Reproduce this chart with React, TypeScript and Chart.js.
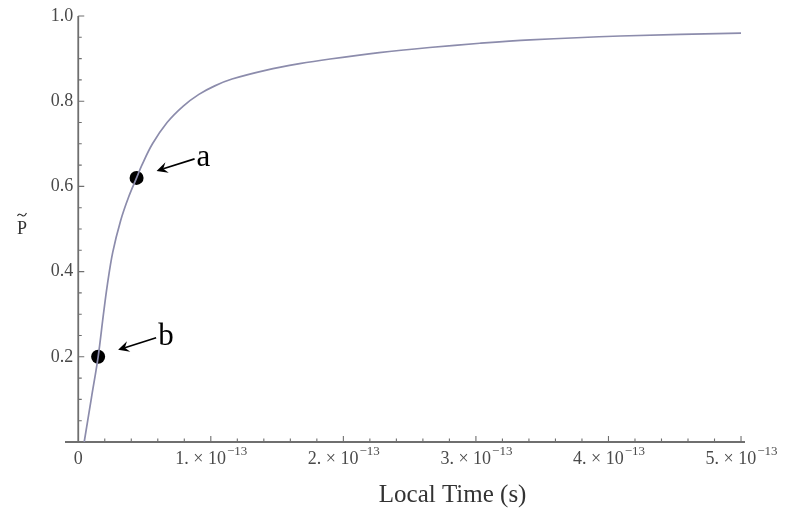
import { useEffect, useRef } from "react";
import { Chart, registerables } from "chart.js";

Chart.register(...registerables);

// Local time, in units of 1e-13 s
const localTime = [
  0.045, 0.1, 0.15, 0.19, 0.22, 0.26, 0.32, 0.38, 0.44, 0.48, 0.56, 0.67, 0.79,
  0.91, 1.03, 1.16, 1.42, 1.67, 1.9, 2.27, 2.65, 3.03, 3.41, 4.09, 5.0,
];
// Probability P~ at each time
const probability = [
  0, 0.105, 0.2, 0.3, 0.37, 0.445, 0.52, 0.575, 0.62, 0.65, 0.7, 0.75, 0.788,
  0.816, 0.836, 0.852, 0.873, 0.888, 0.899, 0.914, 0.926, 0.936, 0.944, 0.953,
  0.96,
];

// Marked states
const markLabels = ["a", "b"];
const markTime = [0.44, 0.15];
const markProbability = [0.62, 0.2];

// Axis ticks
const xMajorTicks = [0, 1, 2, 3, 4, 5];
const xMinorStep = 0.2;
const yMajorTicks = [0.2, 0.4, 0.6, 0.8, 1.0];
const yMinorStep = 0.05;
const xExponent = "\u221213";

const SERIF = '"Liberation Serif", "DejaVu Serif", serif';
const AXIS_COLOR = "#6f6f6f";
const LABEL_COLOR = "#4a4a4a";

const axesPlugin = {
  id: "crossedAxes",
  beforeDatasetsDraw(chart: any) {
    const { ctx, chartArea } = chart;
    const xs = chart.scales.x;
    const ys = chart.scales.y;
    const x0 = xs.getPixelForValue(0);
    const y0 = ys.getPixelForValue(0);
    const yTop = ys.getPixelForValue(1);
    const xEnd = xMajorTicks[xMajorTicks.length - 1];
    const yEnd = yMajorTicks[yMajorTicks.length - 1];

    ctx.save();
    ctx.strokeStyle = AXIS_COLOR;
    ctx.lineWidth = 1.8;
    ctx.beginPath();
    ctx.moveTo(chartArea.left, y0);
    ctx.lineTo(chartArea.right, y0);
    ctx.moveTo(x0, y0);
    ctx.lineTo(x0, yTop);
    ctx.stroke();

    // tick marks pointing into the plot
    ctx.lineWidth = 1.1;
    ctx.beginPath();
    for (let v = xMinorStep; v <= xEnd + 1e-9; v += xMinorStep) {
      const isMajor = Math.abs(v - Math.round(v)) < 1e-6;
      const px = xs.getPixelForValue(v);
      ctx.moveTo(px, y0);
      ctx.lineTo(px, y0 - (isMajor ? 6 : 3.5));
    }
    for (let v = yMinorStep; v <= yEnd + 1e-9; v += yMinorStep) {
      const isMajor = yMajorTicks.some((t) => Math.abs(t - v) < 1e-6);
      const py = ys.getPixelForValue(v);
      ctx.moveTo(x0, py);
      ctx.lineTo(x0 + (isMajor ? 6 : 3.5), py);
    }
    ctx.stroke();

    // y tick labels
    ctx.fillStyle = LABEL_COLOR;
    ctx.font = `18px ${SERIF}`;
    ctx.textAlign = "right";
    ctx.textBaseline = "middle";
    yMajorTicks.forEach((t) => {
      ctx.fillText(t.toFixed(1), x0 - 5, ys.getPixelForValue(t));
    });

    // x tick labels with exponent
    ctx.textBaseline = "alphabetic";
    ctx.textAlign = "left";
    xMajorTicks.forEach((t) => {
      const px = xs.getPixelForValue(t);
      if (t === 0) {
        ctx.font = `18px ${SERIF}`;
        const w = ctx.measureText("0").width;
        ctx.fillText("0", px - w / 2, y0 + 22);
        return;
      }
      const base = `${t}. \u00d7 10`;
      ctx.font = `18px ${SERIF}`;
      const wb = ctx.measureText(base).width;
      ctx.font = `13px ${SERIF}`;
      const ws = ctx.measureText(xExponent).width;
      const start = px - (wb + ws) / 2;
      ctx.font = `18px ${SERIF}`;
      ctx.fillText(base, start, y0 + 22);
      ctx.font = `13px ${SERIF}`;
      ctx.fillText(xExponent, start + wb + 1, y0 + 13);
    });

    // axis titles
    ctx.fillStyle = "#333";
    ctx.font = `25px ${SERIF}`;
    ctx.textAlign = "center";
    ctx.fillText("Local Time (s)", chartArea.left + chartArea.width * 0.57, y0 + 60);

    const ty = (y0 + yTop) / 2;
    ctx.font = `18px ${SERIF}`;
    ctx.textBaseline = "middle";
    ctx.fillText("P", 22, ty);
    ctx.strokeStyle = "#333";
    ctx.lineWidth = 1.2;
    ctx.beginPath();
    ctx.moveTo(17.5, ty - 13);
    ctx.bezierCurveTo(19.5, ty - 17, 22, ty - 13, 23.5, ty - 13);
    ctx.bezierCurveTo(25, ty - 13, 26, ty - 15, 26.5, ty - 16);
    ctx.stroke();
    ctx.restore();
  },
  afterDatasetsDraw(chart: any) {
    const { ctx } = chart;
    const xs = chart.scales.x;
    const ys = chart.scales.y;
    ctx.save();
    markLabels.forEach((label, i) => {
      const px = xs.getPixelForValue(markTime[i]);
      const py = ys.getPixelForValue(markProbability[i]);
      const tip = { x: px + 20, y: py - 7 };
      const tail = { x: px + 58, y: py - 19 };
      const ang = Math.atan2(tip.y - tail.y, tip.x - tail.x);
      const ux = Math.cos(ang);
      const uy = Math.sin(ang);
      const headLen = 11;
      const halfW = 5.5;
      const notch = 7;
      const bx = tip.x - ux * headLen;
      const by = tip.y - uy * headLen;

      ctx.strokeStyle = "#000";
      ctx.lineWidth = 1.7;
      ctx.beginPath();
      ctx.moveTo(tail.x, tail.y);
      ctx.lineTo(tip.x - ux * notch, tip.y - uy * notch);
      ctx.stroke();

      ctx.fillStyle = "#000";
      ctx.beginPath();
      ctx.moveTo(tip.x, tip.y);
      ctx.lineTo(bx - uy * halfW, by + ux * halfW);
      ctx.lineTo(tip.x - ux * notch, tip.y - uy * notch);
      ctx.lineTo(bx + uy * halfW, by - ux * halfW);
      ctx.closePath();
      ctx.fill();

      ctx.font = `31px ${SERIF}`;
      ctx.textAlign = "left";
      ctx.textBaseline = "alphabetic";
      ctx.fillText(label, px + 60, py - 12);
    });
    ctx.restore();
  },
};

export default function App() {
  const canvasRef = useRef<HTMLCanvasElement | null>(null);

  useEffect(() => {
    const canvas = canvasRef.current;
    if (!canvas) return;
    const curve = localTime.map((t, i) => ({ x: t, y: probability[i] }));
    const marks = markTime.map((t, i) => ({ x: t, y: markProbability[i] }));

    const chart = new Chart(canvas, {
      type: "line",
      data: {
        datasets: [
          {
            data: curve,
            borderColor: "rgb(140,140,172)",
            borderWidth: 1.7,
            pointRadius: 0,
            tension: 0.35,
            fill: false,
          },
          {
            data: marks,
            showLine: false,
            pointRadius: 7,
            pointHoverRadius: 7,
            pointBackgroundColor: "#000",
            pointBorderColor: "#000",
            pointBorderWidth: 0,
          },
        ],
      },
      options: {
        responsive: false,
        animation: false,
        events: [],
        layout: { padding: { left: 65, right: 40, top: 16, bottom: 70 } },
        plugins: { legend: { display: false }, tooltip: { enabled: false } },
        scales: {
          x: { type: "linear", min: -0.1, max: 5.03, display: false },
          y: { type: "linear", min: 0, max: 1, display: false },
        },
      },
      plugins: [axesPlugin],
    });
    return () => chart.destroy();
  }, []);

  return (
    <div
      style={{
        position: "absolute",
        left: 0,
        top: 0,
        width: 785,
        height: 512,
        background: "#fff",
      }}
    >
      <canvas ref={canvasRef} width={785} height={512} />
    </div>
  );
}
